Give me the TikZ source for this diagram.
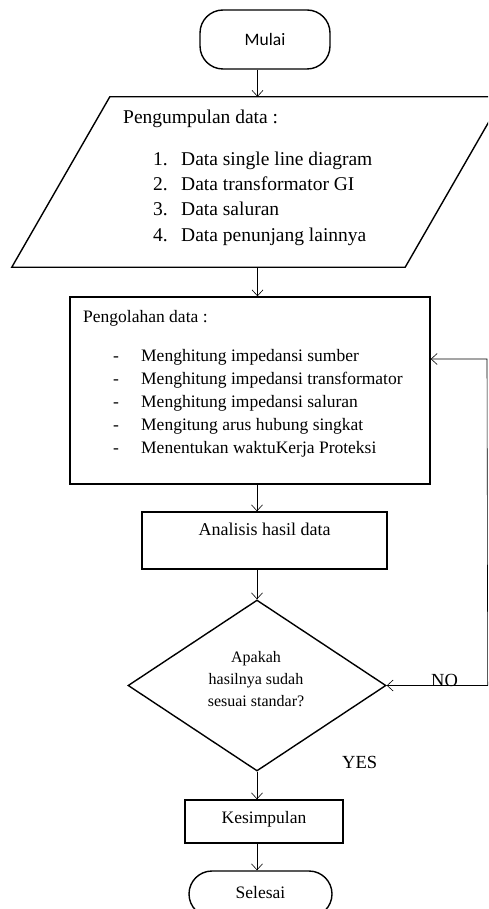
\documentclass[tikz,border=0pt]{standalone}
\usepackage{fontspec}
\setmainfont{Liberation Serif}
\newfontfamily\startfont{Carlito}
\usetikzlibrary{shapes.geometric,arrows.meta,calc}
\tikzset{
  box/.style={draw, line width=1.4pt},
  terminal/.style={box, rounded corners=23pt},
  flow/.style={line width=0.6pt, -{Straight Barb[length=6pt,width=11pt]}},
  bigtxt/.style={anchor=base west, inner sep=0pt, font=\fontsize{19.5}{25}\selectfont},
  smalltxt/.style={anchor=base west, inner sep=0pt, font=\fontsize{17.5}{23}\selectfont},
}

\begin{document}
\begin{tikzpicture}[x=1pt,y=-1pt]
    \useasboundingbox (0,0) rectangle (488,909);
    \clip (0,0) rectangle (488,909);

    \node[terminal, minimum width=130pt, minimum height=59pt, font=\startfont\fontsize{17.5}{20}\selectfont] (start) at (265,39.5) {Mulai};

    \node[minimum width=295pt, minimum height=170pt] (collect) at (257.5,182) {};
    \draw[box] (collect.north west) -- ($(collect.north east)+(98,0)$) -- (collect.south east) -- ($(collect.south west)+(-98,0)$) -- cycle;
    \node[bigtxt] (collecttitle) at (123,124) {Pengumpulan data :};
    \node[bigtxt] (collectone) at (153,166) {\makebox[28pt][l]{1.}Data single line diagram};
    \node[bigtxt] (collecttwo) at (153,191) {\makebox[28pt][l]{2.}Data transformator GI};
    \node[bigtxt] (collectthree) at (153,216) {\makebox[28pt][l]{3.}Data saluran};
    \node[bigtxt] (collectfour) at (153,241) {\makebox[28pt][l]{4.}Data penunjang lainnya};

    \node[box, minimum width=360pt, minimum height=187pt] (process) at (250,390.5) {};
    \node[smalltxt] (processtitle) at (83,322) {Pengolahan data :};
    \node[smalltxt] (processone) at (113,361) {\makebox[28pt][l]{-}Menghitung impedansi sumber};
    \node[smalltxt] (processtwo) at (113,384) {\makebox[28pt][l]{-}Menghitung impedansi transformator};
    \node[smalltxt] (processthree) at (113,407) {\makebox[28pt][l]{-}Menghitung impedansi saluran};
    \node[smalltxt] (processfour) at (113,430) {\makebox[28pt][l]{-}Mengitung arus hubung singkat};
    \node[smalltxt] (processfive) at (113,453) {\makebox[28pt][l]{-}Menentukan waktuKerja Proteksi};

    \node[box, minimum width=245pt, minimum height=57pt, text height=12pt, text depth=23pt, font=\fontsize{18}{22}\selectfont] (analysis) at (264.5,540.5) {Analisis hasil data};

    \node[box, diamond, minimum width=258pt, minimum height=171pt, inner sep=0pt] (decision) at (257,685.5) {};
    \node[align=center, inner sep=0pt, font=\fontsize{16}{22}\selectfont] (decisiontext) at (256,679) {Apakah\\hasilnya sudah\\sesuai standar?};

    \node[box, minimum width=158pt, minimum height=43pt, text height=12pt, text depth=8.5pt, font=\fontsize{17.5}{21}\selectfont] (conclude) at (264,821.5) {Kesimpulan};

    \node[terminal, minimum width=143pt, minimum height=46pt, text height=12pt, text depth=4pt, font=\fontsize{17.5}{21}\selectfont] (finish) at (260.5,894) {Selesai};

    \node[anchor=base west, inner sep=0pt, font=\fontsize{18.5}{22}\selectfont] (yes) at (342,768) {YES};
    \node[anchor=base west, inner sep=0pt, font=\fontsize{18.5}{22}\selectfont] (no) at (431,686) {NO};

    \draw[flow] (start.south -| collect.north) -- (collect.north);
    \draw[flow] (collect.south) -- (collect.south |- process.north);
    \draw[flow] (process.south -| decision.north) -- (analysis.north -| decision.north);
    \draw[flow] (analysis.south -| decision.north) -- (decision.north);
    \draw[flow] (decision.south) -- (conclude.north -| decision.south);
    \draw[flow] (conclude.south -| decision.south) -- (finish.north -| decision.south);

    \coordinate (loopcorner) at ($(decision.east)+(101,0)$);
    \coordinate (looptop) at (487,359);
    \draw[flow] (loopcorner) -- (decision.east);
    \draw[flow] (loopcorner) -- (looptop) -- (looptop -| process.east);
\end{tikzpicture}
\end{document}
